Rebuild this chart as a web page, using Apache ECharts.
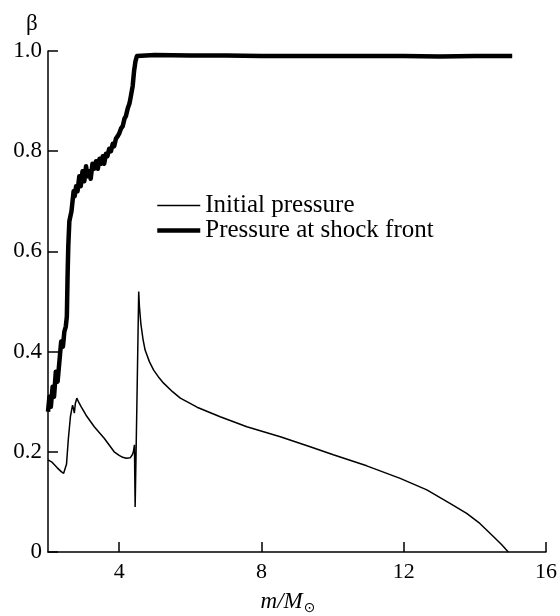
<!DOCTYPE html>
<html>
<head>
<meta charset="utf-8">
<script src="https://cdn.jsdelivr.net/npm/echarts@6/dist/echarts.min.js"></script>
<style>html,body{margin:0;padding:0;background:#fff}#c{width:560px;height:616px}</style>
</head>
<body>
<div id="c"></div>
<script>
// Data
var xTickValues = [4, 8, 12, 16];
var yTickValues = [0, 0.2, 0.4, 0.6, 0.8, 1.0];

var initName = 'Initial pressure';
var shockName = 'Pressure at shock front';

var initX = [2.00, 2.10, 2.18, 2.26, 2.32, 2.38, 2.44, 2.48, 2.52, 2.57, 2.63, 2.69, 2.72, 2.74, 2.77, 2.81, 2.87, 2.93, 3.07, 3.30, 3.58, 3.86, 4.00, 4.10, 4.20, 4.31, 4.37, 4.40, 4.43, 4.44, 4.45, 4.50, 4.55, 4.57, 4.61, 4.67, 4.73, 4.85, 4.97, 5.10, 5.25, 5.50, 5.72, 6.19, 6.84, 7.59, 8.53, 9.37, 10.02, 10.96, 11.90, 12.65, 13.30, 13.77, 14.14, 14.52, 14.75, 14.94];
var initY = [0.184, 0.180, 0.174, 0.168, 0.164, 0.160, 0.157, 0.160, 0.175, 0.224, 0.270, 0.293, 0.285, 0.277, 0.297, 0.307, 0.298, 0.290, 0.273, 0.250, 0.227, 0.200, 0.193, 0.189, 0.187, 0.188, 0.194, 0.200, 0.214, 0.150, 0.090, 0.300, 0.520, 0.490, 0.456, 0.425, 0.403, 0.380, 0.363, 0.350, 0.337, 0.320, 0.307, 0.289, 0.270, 0.250, 0.230, 0.210, 0.194, 0.172, 0.147, 0.124, 0.097, 0.077, 0.057, 0.031, 0.015, 0.000];

var shockX = [2.00, 2.04, 2.08, 2.13, 2.17, 2.22, 2.27, 2.32, 2.37, 2.42, 2.46, 2.50, 2.53, 2.55, 2.57, 2.60, 2.63, 2.66, 2.69, 2.72, 2.75, 2.79, 2.83, 2.88, 2.92, 2.97, 3.02, 3.07, 3.11, 3.16, 3.20, 3.25, 3.30, 3.35, 3.40, 3.45, 3.49, 3.54, 3.58, 3.63, 3.67, 3.72, 3.77, 3.82, 3.86, 3.91, 3.96, 4.00, 4.05, 4.10, 4.15, 4.19, 4.24, 4.29, 4.33, 4.38, 4.42, 4.46, 4.50, 4.53, 5.0, 6.0, 7.0, 8.0, 9.0, 10.0, 11.0, 12.0, 13.0, 14.0, 15.05];
var shockY = [0.28, 0.31, 0.29, 0.33, 0.31, 0.36, 0.34, 0.38, 0.42, 0.41, 0.44, 0.45, 0.47, 0.55, 0.61, 0.66, 0.67, 0.68, 0.70, 0.72, 0.71, 0.73, 0.72, 0.75, 0.73, 0.76, 0.74, 0.77, 0.75, 0.76, 0.745, 0.775, 0.765, 0.78, 0.765, 0.785, 0.775, 0.79, 0.775, 0.795, 0.79, 0.805, 0.80, 0.815, 0.81, 0.825, 0.83, 0.835, 0.845, 0.85, 0.865, 0.87, 0.885, 0.895, 0.91, 0.93, 0.96, 0.98, 0.99, 0.993, 0.992, 0.991, 0.991, 0.990, 0.990, 0.990, 0.990, 0.990, 0.989, 0.990, 0.990];

function zip(xs, ys) { return xs.map(function (x, i) { return [x, ys[i]]; }); }

var serif = '"Liberation Serif", "DejaVu Serif", serif';
var chart = echarts.init(document.getElementById('c'), null, {renderer: 'canvas'});
chart.setOption({
  animation: false,
  backgroundColor: '#fff',
  grid: {left: 48, right: 14, top: 51, bottom: 64, containLabel: false, outerBoundsMode: 'none'},
  legend: {
    orient: 'vertical', left: 150, top: 188, itemWidth: 43, itemHeight: 14, itemGap: 0,
    padding: 5,
    itemStyle: {opacity: 0},
    textStyle: {fontFamily: serif, fontSize: 25, color: '#000'},
    data: [
      {name: initName, lineStyle: {width: 1.5, color: '#000', opacity: 1}},
      {name: shockName, lineStyle: {width: 4.5, color: '#000', opacity: 1}}
    ]
  },
  xAxis: {
    type: 'value', min: 2, max: 16,
    axisLine: {show: true, onZero: false, lineStyle: {color: '#000', width: 1.5}},
    axisTick: {show: true, inside: true, length: 10, lineStyle: {color: '#000', width: 1.5}, customValues: xTickValues},
    axisLabel: {customValues: xTickValues, color: '#000', fontFamily: serif, fontSize: 22, margin: 9},
    splitLine: {show: false},
    name: '{i|m/M}{s|⊙}', nameLocation: 'middle', nameGap: 37,
    nameTextStyle: {
      padding: [0, 18, 0, 0],
      rich: {
        i: {fontFamily: serif, fontStyle: 'italic', fontSize: 23, color: '#000'},
        s: {fontFamily: '"DejaVu Sans", sans-serif', fontSize: 14, color: '#000', padding: [12, 0, 0, 1]}
      }
    }
  },
  yAxis: {
    type: 'value', min: 0, max: 1, interval: 0.2,
    axisLine: {show: true, lineStyle: {color: '#000', width: 1.5}},
    axisTick: {show: true, inside: true, length: 10, lineStyle: {color: '#000', width: 1.5}},
    axisLabel: {color: '#000', fontFamily: serif, fontSize: 23, margin: 6,
      formatter: function (v) { return v === 0 ? '0' : v.toFixed(1); }},
    splitLine: {show: false}
  },
  graphic: [{
    type: 'text', left: 26, top: 12,
    style: {text: 'β', font: '23px "Liberation Serif", serif', fill: '#000'}
  }],
  series: [
    {name: initName, type: 'line', data: zip(initX, initY), symbol: 'none', smooth: false,
      itemStyle: {color: '#000'}, lineStyle: {color: '#000', width: 1.5}, z: 2},
    {name: shockName, type: 'line', data: zip(shockX, shockY), symbol: 'none', smooth: false,
      itemStyle: {color: '#000'}, lineStyle: {color: '#000', width: 4.5, join: 'round'}, z: 3}
  ]
});
</script>
</body>
</html>
